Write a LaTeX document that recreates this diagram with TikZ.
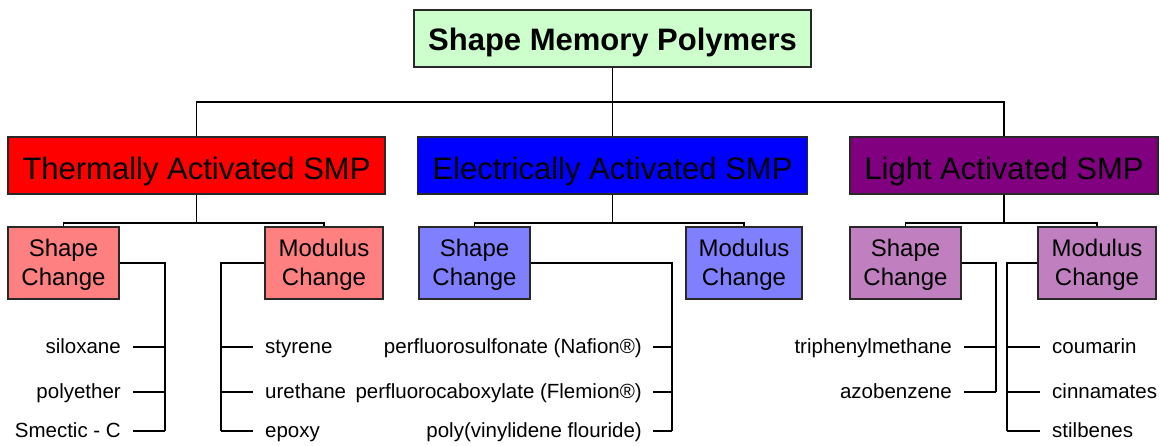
\documentclass[tikz,border=0pt]{standalone}
\usepackage{fontspec}
\setmainfont{Liberation Sans}
\definecolor{topgreen}{RGB}{204,255,204}
\definecolor{thred}{RGB}{255,0,0}
\definecolor{elblue}{RGB}{0,0,255}
\definecolor{lipurple}{RGB}{128,0,128}
\definecolor{thsub}{RGB}{255,128,128}
\definecolor{elsub}{RGB}{128,128,255}
\definecolor{lisub}{RGB}{192,128,192}
\definecolor{edge}{RGB}{40,40,40}
\tikzset{
  box/.style={draw=edge, line width=1.1pt, inner sep=0pt, align=center},
  topbox/.style={box, fill=topgreen, minimum width=397pt, minimum height=57pt,
    text height=24.5pt, text depth=0pt,
    font=\fontsize{31}{37}\selectfont\bfseries},
  catbox/.style={box, minimum height=57pt, text height=29pt, text depth=0pt,
    font=\fontsize{31}{37}\selectfont},
  subbox/.style={box, minimum height=72pt, text height=51pt, text depth=5pt,
    font=\fontsize{24}{29}\selectfont},
  item/.style={inner sep=0pt, text height=14pt, text depth=0pt, font=\fontsize{20.5}{24}\selectfont},
  conn/.style={draw=black, line width=1.1pt},
}
\begin{document}
\begin{tikzpicture}[x=1pt,y=-1pt]
\useasboundingbox (0,0) rectangle (1160,446);
% top
\node[topbox] (top) at (612.5,38.5) {Shape Memory Polymers};
% categories
\node[catbox, fill=thred, minimum width=377pt] (th) at (196.5,165.5) {Thermally Activated SMP};
\node[catbox, fill=elblue, minimum width=390pt] (el) at (612.5,165.5) {Electrically Activated SMP};
\node[catbox, fill=lipurple, minimum width=308pt] (li) at (1004,165.5) {Light Activated SMP};
% sub boxes
\node[subbox, fill=thsub, minimum width=111pt] (ts) at (63.5,263) {Shape\\Change};
\node[subbox, fill=thsub, minimum width=118pt] (tm) at (324,263) {Modulus\\Change};
\node[subbox, fill=elsub, minimum width=111pt] (es) at (474.5,263) {Shape\\Change};
\node[subbox, fill=elsub, minimum width=116pt] (em) at (744,263) {Modulus\\Change};
\node[subbox, fill=lisub, minimum width=111pt] (ls) at (905.5,263) {Shape\\Change};
\node[subbox, fill=lisub, minimum width=118pt] (lm) at (1097,263) {Modulus\\Change};
% bus coordinates
\coordinate (bus0) at (612.5,102);
\coordinate (thbus) at (196.5,223);
\coordinate (elbus) at (612.5,223);
\coordinate (libus) at (1004,223);
\coordinate (tsv) at (165,431);
\coordinate (tmv) at (221,431);
\coordinate (esv) at (672,431);
\coordinate (lsv) at (996,392);
\coordinate (lmv) at (1007,431);
% items
\node[item, anchor=east] (t1) at (121,347) {siloxane};
\node[item, anchor=east] (t2) at (121,392) {polyether};
\node[item, anchor=east] (t3) at (121,431) {Smectic - C};
\node[item, anchor=west] (m1) at (265,347) {styrene};
\node[item, anchor=west] (m2) at (265,392) {urethane};
\node[item, anchor=west] (m3) at (265,431) {epoxy};
\node[item, anchor=east] (e1) at (642,347) {perfluorosulfonate (Nafion®)};
\node[item, anchor=east] (e2) at (642,392) {perfluorocaboxylate (Flemion®)};
\node[item, anchor=east] (e3) at (642,431) {poly(vinylidene flouride)};
\node[item, anchor=east] (l1) at (952,347) {triphenylmethane};
\node[item, anchor=east] (l2) at (952,392) {azobenzene};
\node[item, anchor=west] (n1) at (1052,347) {coumarin};
\node[item, anchor=west] (n2) at (1052,392) {cinnamates};
\node[item, anchor=west] (n3) at (1052,431) {stilbenes};
% level 0-1 connectors
\draw[conn] (top.south) -- (el.north);
\draw[conn] (th.north) |- (bus0) -| (li.north);
% level 1-2 connectors
\draw[conn] (th.south) -- (thbus);
\draw[conn] (ts.north) |- (thbus) -| (tm.north);
\draw[conn] (el.south) -- (elbus);
\draw[conn] (es.north) |- (elbus) -| (em.north);
\draw[conn] (li.south) -- (libus);
\draw[conn] (ls.north) |- (libus) -| (lm.north);
% item connectors
\draw[conn] (ts.east) -| (tsv);
\foreach \n in {t1,t2,t3} \draw[conn] ([xshift=12pt]\n.east) -- (\n.east -| tsv);
\draw[conn] (tm.west) -| (tmv);
\foreach \n in {m1,m2,m3} \draw[conn] ([xshift=-12pt]\n.west) -- (\n.west -| tmv);
\draw[conn] (es.east) -| (esv);
\foreach \n in {e1,e2,e3} \draw[conn] ([xshift=11pt]\n.east) -- (\n.east -| esv);
\draw[conn] (ls.east) -| (lsv);
\foreach \n in {l1,l2} \draw[conn] ([xshift=12pt]\n.east) -- (\n.east -| lsv);
\draw[conn] (lm.west) -| (lmv);
\foreach \n in {n1,n2,n3} \draw[conn] ([xshift=-12pt]\n.west) -- (\n.west -| lmv);
\end{tikzpicture}
\end{document}
